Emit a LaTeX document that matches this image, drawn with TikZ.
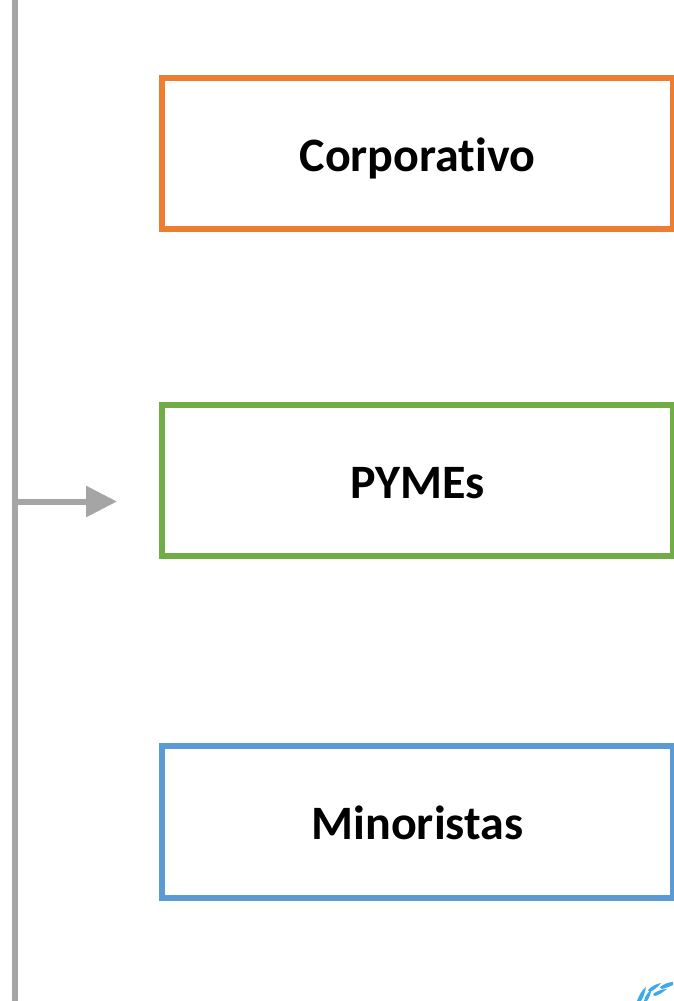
\documentclass[tikz,border=0pt]{standalone}
\usepackage{fontspec}
\setmainfont{Carlito}[Ligatures=NoCommon]
\usetikzlibrary{arrows.meta}

\definecolor{boxorange}{RGB}{237,125,49}
\definecolor{boxgreen}{RGB}{112,173,71}
\definecolor{boxblue}{RGB}{91,155,213}
\definecolor{axisgray}{RGB}{165,165,165}
\definecolor{leafblue}{RGB}{60,170,230}

\begin{document}
\begin{tikzpicture}[x=1pt,y=-1pt,>={Triangle[length=31pt,width=30pt]},node distance=327pt,
  main node/.style={rectangle,draw,fill=white,line width=6pt,minimum width=511pt,
    minimum height=151.5pt,inner sep=0pt,text height=35pt,text depth=0pt,
    font=\fontsize{48}{54}\selectfont\bfseries},
  axis line/.style={draw=axisgray,line width=6pt},
  leaf/.style={fill=leafblue,draw=none}]
  \useasboundingbox (0,0) rectangle (673,1001);

  \node[main node,draw=boxorange] (C) at (417.5,153.5) {Corporativo};
  \node[main node,draw=boxgreen] (P) [below of=C] {PYMEs};
  \node[main node,draw=boxblue] (M) [below of=P,node distance=341.5pt] {Minoristas};

  \coordinate (T) at (15,0);
  \coordinate (B) at (15,1001);
  \coordinate (A) at (15,501.5);
  \coordinate (H) at (117,501.5);

  \draw[axis line] (T) -- (B);
  \draw[->,draw=axisgray,fill=axisgray,line width=6pt] (A) -- (H);

  % laurel at the lower edge
  \fill[leaf] (637,1001) .. controls (640,993) and (643,989) .. (646,987) .. controls (645,993) and (643,998) .. (641,1001) -- cycle;
  \fill[leaf] (644,1001) .. controls (645,996) and (648,992) .. (651,990) .. controls (651,994) and (649,998) .. (647,1001) -- cycle;
  \fill[leaf] (648,990) .. controls (652,986) and (656,984) .. (661,983) .. controls (658,987) and (654,990) .. (650,992) -- cycle;
  \fill[leaf] (653,994) .. controls (657,991) and (662,989) .. (667,989) .. controls (663,992) and (659,995) .. (655,996) -- cycle;
  \fill[leaf] (660,987) .. controls (664,984) and (669,982) .. (673,982) -- (673,985) .. controls (669,987) and (665,988) .. (662,989) -- cycle;
\end{tikzpicture}
\end{document}
